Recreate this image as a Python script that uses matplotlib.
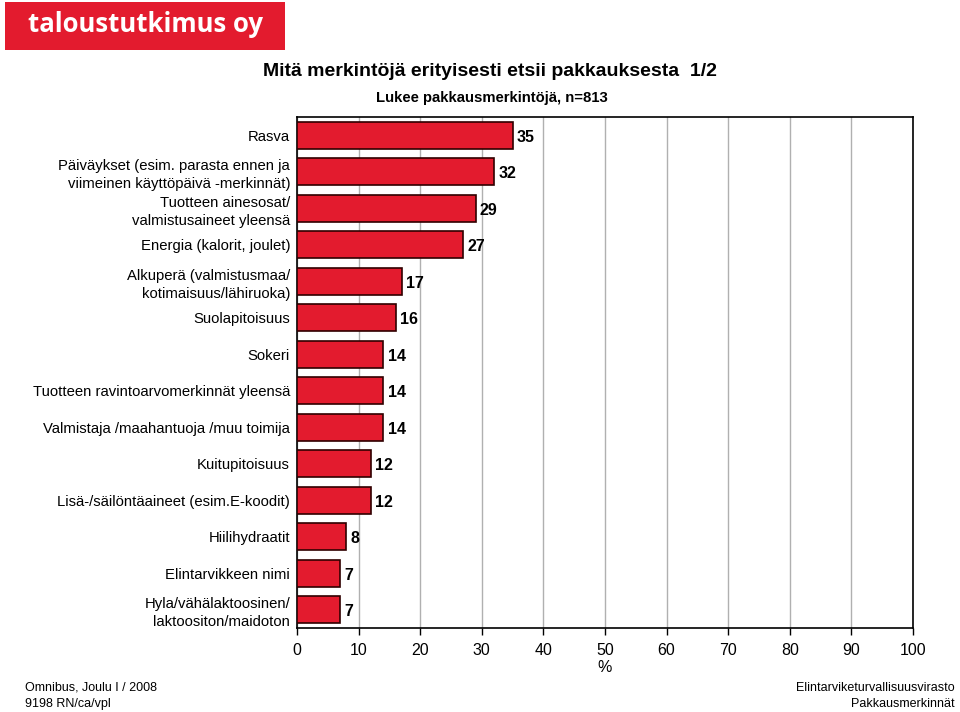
import matplotlib.pyplot as plt
from matplotlib.patches import FancyBboxPatch

plt.rcParams['font.family'] = ['Liberation Sans', 'DejaVu Sans']

# Data
categories = [
    'Rasva',
    'Päiväykset (esim. parasta ennen ja\nviimeinen käyttöpäivä -merkinnät)',
    'Tuotteen ainesosat/\nvalmistusaineet yleensä',
    'Energia (kalorit, joulet)',
    'Alkuperä (valmistusmaa/\nkotimaisuus/lähiruoka)',
    'Suolapitoisuus',
    'Sokeri',
    'Tuotteen ravintoarvomerkinnät yleensä',
    'Valmistaja /maahantuoja /muu toimija',
    'Kuitupitoisuus',
    'Lisä-/säilöntäaineet (esim.E-koodit)',
    'Hiilihydraatit',
    'Elintarvikkeen nimi',
    'Hyla/vähälaktoosinen/\nlaktoositon/maidoton',
]
values = [35, 32, 29, 27, 17, 16, 14, 14, 14, 12, 12, 8, 7, 7]
xticks = [0, 10, 20, 30, 40, 50, 60, 70, 80, 90, 100]

red = '#E31B2E'

fig = plt.figure(figsize=(9.6, 7.12), dpi=100)
ax = fig.add_axes([297 / 960, 1 - 628 / 712, (913 - 297) / 960, (628 - 117) / 712])

ypos = list(range(len(categories)))
ax.barh(ypos, values, height=0.75, color=red, edgecolor='#300000', linewidth=1.2, zorder=3)
for y, v in zip(ypos, values):
    ax.text(v + 0.7, y + 0.05, str(v), va='center', ha='left', fontsize=11.5,
            fontweight='bold', zorder=4)

ax.set_xlim(0, 100)
ax.set_ylim(len(categories) - 0.5, -0.5)
ax.set_xticks(xticks)
ax.set_xticklabels([str(t) for t in xticks], fontsize=11.5)
ax.set_yticks(ypos)
ax.set_yticklabels(categories, fontsize=10.7, linespacing=1.35)
ax.tick_params(axis='y', length=0, pad=5)
ax.tick_params(axis='x', direction='out', length=5, width=1, pad=6)
ax.grid(axis='x', color='#b0b0b0', linewidth=1, zorder=0)
for s in ax.spines.values():
    s.set_color('black')
    s.set_linewidth(1.2)
ax.set_xlabel('%', fontsize=11.5, labelpad=1)

# Logo
logo = FancyBboxPatch((5 / 960, 1 - 50 / 712), 280 / 960, 48 / 712,
                      boxstyle='square,pad=0', transform=fig.transFigure,
                      facecolor=red, edgecolor='none')
fig.patches.append(logo)
fig.text(146 / 960, 1 - 25 / 712, 'taloustutkimus oy', color='white', fontsize=18.5,
         fontweight='bold', ha='center', va='center', family=['Open Sans', 'DejaVu Sans'])

fig.text(490 / 960, 1 - 72 / 712, 'Mitä merkintöjä erityisesti etsii pakkauksesta  1/2',
         fontsize=14, fontweight='bold', ha='center', va='center')
fig.text(492 / 960, 1 - 98 / 712, 'Lukee pakkausmerkintöjä, n=813',
         fontsize=10.7, fontweight='bold', ha='center', va='center')

fig.text(25 / 960, 1 - 688 / 712, 'Omnibus, Joulu I / 2008', fontsize=9, ha='left', va='center')
fig.text(25 / 960, 1 - 704 / 712, '9198 RN/ca/vpl', fontsize=9, ha='left', va='center')
fig.text(955 / 960, 1 - 688 / 712, 'Elintarviketurvallisuusvirasto', fontsize=9, ha='right', va='center')
fig.text(955 / 960, 1 - 704 / 712, 'Pakkausmerkinnät', fontsize=9, ha='right', va='center')

fig.savefig('out.png', dpi=100)
